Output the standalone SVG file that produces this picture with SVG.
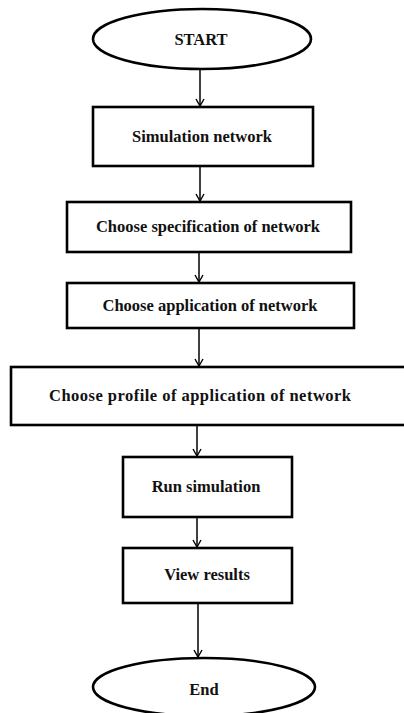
<svg xmlns="http://www.w3.org/2000/svg" width="404" height="713" viewBox="0 0 404 713">
  <style>
    .shape { fill: #fff; stroke: #000; stroke-width: 2.6; }
    .label { font-family: "Liberation Serif", "Times New Roman", serif; font-weight: bold; font-size: 16.5px; fill: #111; text-anchor: middle; }
    .link { stroke: #000; stroke-width: 1.5; fill: none; marker-end: url(#vhead); }
  </style>
  <defs>
    <!-- open V arrowhead, drawn pointing along +x so orient="auto" turns it with the line -->
    <marker id="vhead" viewBox="0 0 10 10" refX="9" refY="5" markerWidth="10" markerHeight="10" markerUnits="userSpaceOnUse" orient="auto">
      <path d="M2,1 L9,5 L2,9" fill="none" stroke="#000" stroke-width="1.4"/>
    </marker>
  </defs>
  <rect width="404" height="713" fill="#fff"/>

  <g id="connectors">
    <line class="link" x1="200" y1="69" x2="200" y2="106"/>
    <line class="link" x1="200" y1="167" x2="200" y2="201"/>
    <line class="link" x1="199" y1="253" x2="199" y2="282"/>
    <line class="link" x1="199" y1="329" x2="199" y2="366"/>
    <line class="link" x1="197" y1="426" x2="197" y2="456"/>
    <line class="link" x1="197" y1="518" x2="197" y2="547"/>
    <line class="link" x1="198" y1="604" x2="198" y2="657"/>
  </g>

  <g id="start">
    <ellipse class="shape" cx="202" cy="39" rx="109" ry="30"/>
    <text class="label" x="201" y="45">START</text>
  </g>

  <g id="simulation-network">
    <rect class="shape" x="93" y="107" width="220" height="59"/>
    <text class="label" x="202" y="142">Simulation network</text>
  </g>

  <g id="choose-specification">
    <rect class="shape" x="67" y="202" width="284" height="50"/>
    <text class="label" x="208" y="232">Choose specification of network</text>
  </g>

  <g id="choose-application">
    <rect class="shape" x="67" y="283" width="287" height="45"/>
    <text class="label" x="210" y="311">Choose application of network</text>
  </g>

  <g id="choose-profile">
    <rect class="shape" x="11" y="367" width="400" height="58"/>
    <text class="label" x="200" y="401" textLength="302" lengthAdjust="spacing">Choose profile of application of network</text>
  </g>

  <g id="run-simulation">
    <rect class="shape" x="123" y="457" width="169" height="60"/>
    <text class="label" x="206" y="492">Run simulation</text>
  </g>

  <g id="view-results">
    <rect class="shape" x="123" y="548" width="169" height="55"/>
    <text class="label" x="207" y="580">View results</text>
  </g>

  <g id="end">
    <ellipse class="shape" cx="204" cy="687" rx="111" ry="29"/>
    <text class="label" x="204" y="695">End</text>
  </g>
</svg>
